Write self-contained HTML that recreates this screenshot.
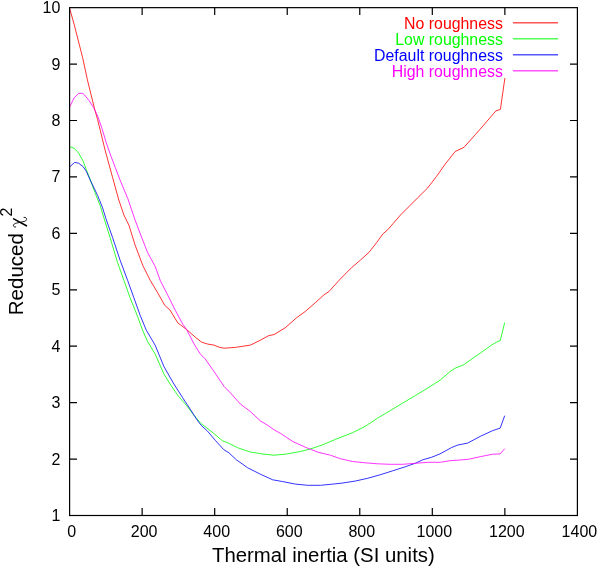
<!DOCTYPE html>
<html><head><meta charset="utf-8"><title>Reduced chi-squared vs thermal inertia</title>
<style>html,body{margin:0;padding:0;background:#fff;}svg{display:block;will-change:transform;}text{font-family:"Liberation Sans",sans-serif;}</style></head><body>
<svg width="598" height="568" viewBox="0 0 598 568">
<rect x="0" y="0" width="598" height="568" fill="#ffffff"/>
<polyline points="69.5,8.0 74.1,24.2 78.4,41.0 82.6,57.5 87.4,79.8 94.6,109.1 97.6,119.5 105.1,150.2 112.7,177.8 118.8,200.0 123.9,215.0 128.9,225.1 135.1,245.1 142.7,265.2 150.2,280.3 157.7,292.8 164.7,305.3 169.8,309.8 177.8,322.9 186.5,329.4 195.2,337.1 201.5,342.1 207.8,344.1 214.0,345.1 219.0,347.2 224.1,348.2 235.3,347.4 250.4,345.1 260.2,340.3 268.8,335.6 274.0,334.6 285.1,327.9 296.4,317.9 305.1,311.6 315.2,302.8 324.0,294.8 329.0,291.5 340.3,279.0 351.5,267.7 360.3,260.2 369.1,252.2 376.6,242.6 382.9,233.9 387.9,229.6 392.9,223.8 400.5,215.0 410.0,205.5 417.6,197.9 427.7,187.9 436.4,176.6 445.2,164.1 455.2,151.5 464.0,147.3 475.3,134.7 485.3,123.2 495.9,110.9 500.4,109.4 504.9,78.0" fill="none" stroke="#ff0000" stroke-width="0.8" stroke-linejoin="round"/>
<polyline points="69.5,146.6 74.0,148.2 78.6,153.0 83.1,161.1 86.1,169.1 88.6,175.3 95.1,192.9 100.1,205.4 103.8,217.6 110.1,237.6 117.6,262.7 123.9,280.3 130.1,297.8 137.6,316.5 142.6,330.2 147.6,341.6 155.1,353.9 163.9,374.0 170.1,384.0 177.7,395.3 186.4,405.3 194.0,415.4 201.0,423.5 211.3,431.4 222.6,440.9 227.6,442.7 237.6,447.7 250.2,452.0 262.7,454.0 274.0,455.2 285.3,454.2 300.3,451.5 310.4,449.0 322.9,444.7 335.4,439.4 352.5,432.7 365.1,426.4 377.6,418.1 390.2,410.6 402.7,403.1 415.2,395.6 427.8,388.0 440.2,380.1 450.1,371.5 455.1,368.2 463.9,364.7 470.1,360.2 480.2,353.2 491.5,345.1 496.5,342.1 500.2,340.6 504.7,322.6" fill="none" stroke="#00ff00" stroke-width="0.8" stroke-linejoin="round"/>
<polyline points="69.5,167.1 74.6,162.4 78.6,163.2 83.3,166.8 86.4,171.5 90.1,179.8 97.6,195.4 102.6,207.9 106.3,219.8 112.6,237.6 120.1,260.2 127.6,280.3 133.9,297.8 140.1,315.2 146.3,330.2 155.1,345.1 163.9,366.5 173.9,384.0 182.7,397.8 190.2,409.1 196.5,419.1 201.0,425.2 207.6,431.2 215.5,440.6 223.8,449.7 228.8,452.7 236.4,459.8 247.7,467.8 260.2,474.1 272.7,479.8 282.8,481.6 295.3,484.1 307.8,485.3 320.4,485.3 332.9,484.1 342.0,483.1 355.0,481.1 367.6,478.3 380.1,474.8 392.7,470.8 405.2,466.8 415.2,463.3 422.8,459.8 431.5,457.3 440.0,453.9 451.3,447.7 457.6,445.1 467.6,443.1 480.2,436.4 492.7,430.6 500.2,428.1 504.7,415.7" fill="none" stroke="#0000ff" stroke-width="0.8" stroke-linejoin="round"/>
<polyline points="69.5,107.3 74.0,98.1 78.6,93.3 82.6,93.3 84.6,95.0 89.1,100.6 93.6,107.6 96.6,113.6 99.1,120.0 101.9,128.2 106.1,142.3 111.0,156.3 115.3,167.6 119.7,179.2 127.8,198.6 135.1,220.1 142.7,240.1 147.7,252.7 155.2,266.5 160.2,280.3 167.8,295.3 175.3,310.4 182.8,324.2 186.5,329.4 194.0,343.9 200.2,353.9 205.2,358.9 214.0,371.5 224.1,386.5 230.3,392.8 240.4,404.1 250.3,411.5 260.4,420.9 267.9,425.4 274.2,429.9 280.2,433.2 292.8,441.5 305.3,447.2 317.9,452.2 330.4,455.2 340.3,458.7 352.5,461.5 365.1,462.8 377.6,463.8 390.2,464.3 402.7,464.3 415.2,463.3 427.8,462.3 440.3,462.3 450.1,460.7 457.6,460.2 468.9,459.2 480.2,456.7 492.7,454.2 500.2,453.9 504.7,448.7" fill="none" stroke="#ff00ff" stroke-width="0.8" stroke-linejoin="round"/>
<g stroke="#000" stroke-width="1.2" fill="none">
<rect x="69.60" y="7.65" width="507.80" height="507.85"/>
<path d="M142.14 515.50V508.10M142.14 7.65V15.05"/>
<path d="M214.69 515.50V508.10M214.69 7.65V15.05"/>
<path d="M287.23 515.50V508.10M287.23 7.65V15.05"/>
<path d="M359.77 515.50V508.10M359.77 7.65V15.05"/>
<path d="M432.31 515.50V508.10M432.31 7.65V15.05"/>
<path d="M504.86 515.50V508.10M504.86 7.65V15.05"/>
<path d="M69.60 459.07H77.00M577.40 459.07H570.00"/>
<path d="M69.60 402.64H77.00M577.40 402.64H570.00"/>
<path d="M69.60 346.22H77.00M577.40 346.22H570.00"/>
<path d="M69.60 289.79H77.00M577.40 289.79H570.00"/>
<path d="M69.60 233.36H77.00M577.40 233.36H570.00"/>
<path d="M69.60 176.93H77.00M577.40 176.93H570.00"/>
<path d="M69.60 120.51H77.00M577.40 120.51H570.00"/>
<path d="M69.60 64.08H77.00M577.40 64.08H570.00"/>
</g>
<text transform="translate(60.30,520.95) scale(1.0000,1)" font-size="16" text-anchor="end" fill="#000">1</text>
<text transform="translate(60.30,464.52) scale(1.0000,1)" font-size="16" text-anchor="end" fill="#000">2</text>
<text transform="translate(60.30,408.09) scale(1.0000,1)" font-size="16" text-anchor="end" fill="#000">3</text>
<text transform="translate(60.30,351.67) scale(1.0000,1)" font-size="16" text-anchor="end" fill="#000">4</text>
<text transform="translate(60.30,295.24) scale(1.0000,1)" font-size="16" text-anchor="end" fill="#000">5</text>
<text transform="translate(60.30,238.81) scale(1.0000,1)" font-size="16" text-anchor="end" fill="#000">6</text>
<text transform="translate(60.30,182.38) scale(1.0000,1)" font-size="16" text-anchor="end" fill="#000">7</text>
<text transform="translate(60.30,125.96) scale(1.0000,1)" font-size="16" text-anchor="end" fill="#000">8</text>
<text transform="translate(60.30,69.53) scale(1.0000,1)" font-size="16" text-anchor="end" fill="#000">9</text>
<text transform="translate(60.30,13.10) scale(1.0000,1)" font-size="16" text-anchor="end" fill="#000">10</text>
<text transform="translate(71.60,536.90) scale(1.0000,1)" font-size="16" text-anchor="middle" fill="#000">0</text>
<text transform="translate(144.14,536.90) scale(1.0000,1)" font-size="16" text-anchor="middle" fill="#000">200</text>
<text transform="translate(216.69,536.90) scale(1.0000,1)" font-size="16" text-anchor="middle" fill="#000">400</text>
<text transform="translate(289.23,536.90) scale(1.0000,1)" font-size="16" text-anchor="middle" fill="#000">600</text>
<text transform="translate(361.77,536.90) scale(1.0000,1)" font-size="16" text-anchor="middle" fill="#000">800</text>
<text transform="translate(434.31,536.90) scale(1.0000,1)" font-size="16" text-anchor="middle" fill="#000">1000</text>
<text transform="translate(506.86,536.90) scale(1.0000,1)" font-size="16" text-anchor="middle" fill="#000">1200</text>
<text transform="translate(579.40,536.90) scale(1.0000,1)" font-size="16" text-anchor="middle" fill="#000">1400</text>
<text transform="translate(502.90,28.85) scale(1.0180,1)" font-size="15.6" text-anchor="end" fill="#ff0000">No roughness</text>
<path d="M512.9 22.85H558.1" stroke="#ff0000" stroke-width="1" fill="none"/>
<text transform="translate(502.90,44.85) scale(1.0180,1)" font-size="15.6" text-anchor="end" fill="#00ff00">Low roughness</text>
<path d="M512.9 38.85H558.1" stroke="#00ff00" stroke-width="1" fill="none"/>
<text transform="translate(502.90,60.85) scale(1.0180,1)" font-size="15.6" text-anchor="end" fill="#0000ff">Default roughness</text>
<path d="M512.9 54.85H558.1" stroke="#0000ff" stroke-width="1" fill="none"/>
<text transform="translate(502.90,76.85) scale(1.0180,1)" font-size="15.6" text-anchor="end" fill="#ff00ff">High roughness</text>
<path d="M512.9 70.85H558.1" stroke="#ff00ff" stroke-width="1" fill="none"/>
<text transform="translate(323.35,562.00) scale(1.0180,1)" font-size="20" text-anchor="middle" fill="#000">Thermal inertia (SI units)</text>
<text transform="translate(23.1,315.2) rotate(-90) scale(1.026,1)" font-size="20" fill="#000">Reduced</text>
<text transform="translate(12.4,216.6) rotate(-90)" font-size="16" fill="#000">2</text>
<g fill="none" stroke="#000" stroke-linecap="round"><path d="M13.7 218.9L26.4 225.8" stroke-width="1.6"/><path d="M24.0 217.3C25.8 217.3 26.9 218.2 26.6 219.5C26.3 220.6 25.4 221.2 24.0 221.5L16.5 223.1C14.5 223.5 13.4 224.3 13.4 225.6C13.5 226.6 14.5 227.2 15.7 227.0" stroke-width="0.9"/></g>
</svg></body></html>
